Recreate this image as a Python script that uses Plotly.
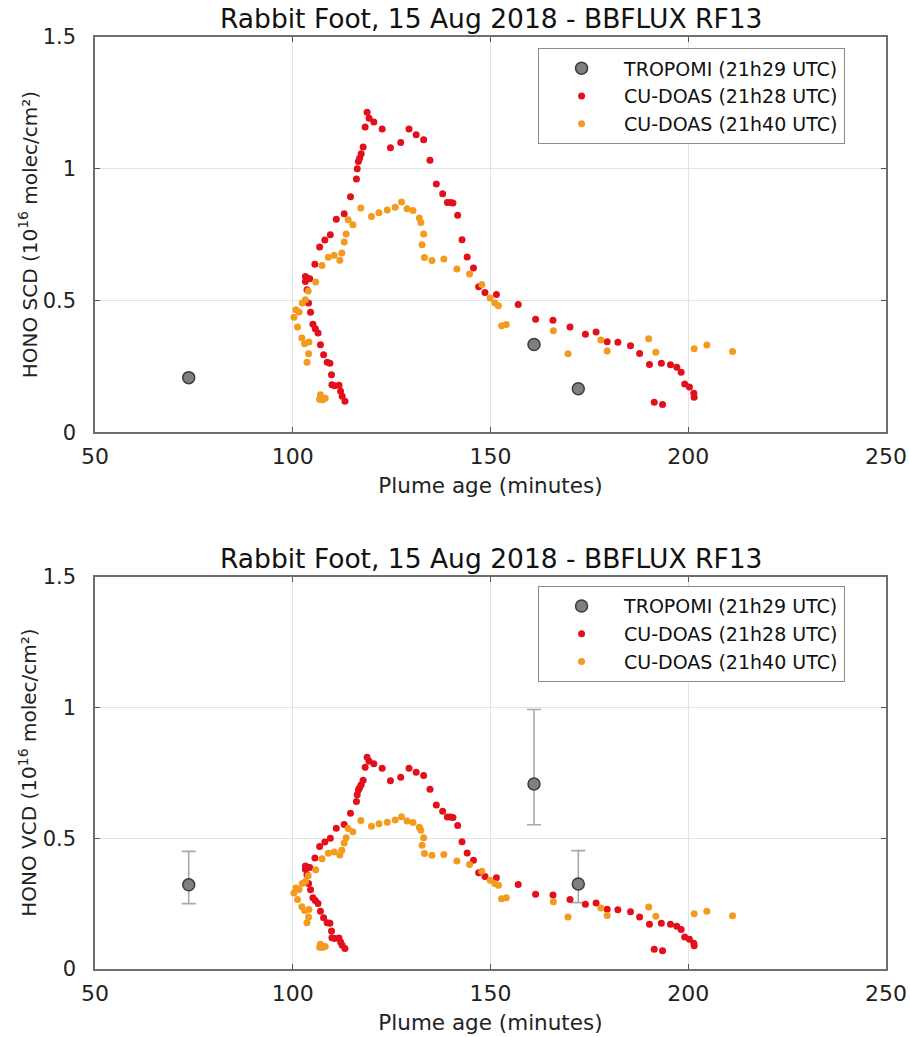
import plotly.graph_objects as go

title_text = "Rabbit Foot, 15 Aug 2018 - BBFLUX RF13"
legend_names = ["TROPOMI (21h29 UTC)", "CU-DOAS (21h28 UTC)", "CU-DOAS (21h40 UTC)"]
y_titles = ["HONO SCD (10<sup>16</sup> molec/cm²)", "HONO VCD (10<sup>16</sup> molec/cm²)"]
x_title = "Plume age (minutes)"

# TROPOMI
trop_x = [73.7, 161.0, 172.2]
trop_scd = [0.207, 0.333, 0.165]
trop_vcd = [0.322, 0.708, 0.325]
trop_vcd_hi = [0.450, 0.993, 0.453]
trop_vcd_lo = [0.250, 0.552, 0.254]

# CU-DOAS 21h28
red_x = [113.2, 112.5, 112.1, 111.7, 110.6, 109.9, 109.8, 109.4, 108.7, 107.8,
         107.0, 106.4, 105.7, 105.1, 104.5, 104.0, 103.6, 103.2, 103.2, 104.3,
         103.6, 105.6, 106.8, 108.1, 109.5, 111.0, 113.0, 114.6, 116.1, 116.3,
         116.6, 116.9, 117.3, 117.8, 118.3, 118.8, 119.3, 120.5, 122.6, 124.7,
         127.3, 129.4, 131.2, 133.1, 134.7, 136.3, 137.9, 139.1, 139.9, 140.5,
         141.7, 142.8, 144.1, 145.7, 147.0, 148.6, 151.5, 157.0, 161.4, 165.8,
         170.1, 174.0, 176.7, 179.5, 182.2, 185.4, 187.7, 190.2, 193.2, 195.5,
         197.1, 198.2, 199.1, 200.3, 201.4, 201.5, 191.4, 193.5]
red_scd = [0.117, 0.136, 0.155, 0.178, 0.176, 0.180, 0.218, 0.262, 0.265, 0.294,
           0.332, 0.376, 0.393, 0.410, 0.455, 0.490, 0.541, 0.572, 0.591, 0.582,
           0.585, 0.637, 0.703, 0.729, 0.749, 0.808, 0.829, 0.894, 0.961, 1.000,
           1.027, 1.040, 1.057, 1.082, 1.158, 1.214, 1.192, 1.177, 1.151, 1.080,
           1.100, 1.151, 1.129, 1.110, 1.032, 0.942, 0.905, 0.872, 0.872, 0.870,
           0.823, 0.730, 0.665, 0.623, 0.552, 0.530, 0.523, 0.485, 0.429, 0.425,
           0.399, 0.372, 0.380, 0.343, 0.341, 0.328, 0.299, 0.257, 0.262, 0.256,
           0.246, 0.227, 0.183, 0.171, 0.148, 0.133, 0.114, 0.105]
red_vcd = [0.078, 0.091, 0.103, 0.119, 0.117, 0.120, 0.145, 0.175, 0.177, 0.196,
           0.221, 0.251, 0.262, 0.273, 0.303, 0.327, 0.361, 0.382, 0.394, 0.388,
           0.390, 0.425, 0.469, 0.486, 0.500, 0.539, 0.553, 0.596, 0.641, 0.667,
           0.685, 0.694, 0.705, 0.722, 0.772, 0.810, 0.795, 0.785, 0.768, 0.720,
           0.734, 0.768, 0.753, 0.740, 0.688, 0.628, 0.604, 0.582, 0.582, 0.580,
           0.549, 0.487, 0.444, 0.416, 0.368, 0.354, 0.349, 0.323, 0.286, 0.283,
           0.266, 0.248, 0.253, 0.229, 0.227, 0.219, 0.199, 0.171, 0.175, 0.171,
           0.164, 0.151, 0.122, 0.114, 0.099, 0.089, 0.076, 0.070]

# CU-DOAS 21h40
org_x = [100.3, 100.8, 101.6, 101.2, 102.3, 102.4, 103.0, 103.2, 103.6, 103.9,
         104.0, 104.1, 105.8, 106.8, 107.0, 107.5, 108.2, 107.4, 109.0, 110.5,
         111.9, 112.4, 113.0, 113.5, 114.0, 115.2, 117.2, 119.9, 121.8, 123.9,
         125.9, 127.5, 128.9, 130.4, 132.0, 132.4, 133.1, 132.7, 133.3, 135.2,
         138.2, 141.5, 144.7, 147.8, 149.9, 151.1, 152.0, 152.8, 154.0, 165.9,
         169.6, 177.9, 179.5, 190.0, 191.8, 201.5, 204.7, 211.2]
org_scd = [0.436, 0.465, 0.456, 0.399, 0.357, 0.490, 0.336, 0.503, 0.265, 0.536,
           0.298, 0.342, 0.570, 0.125, 0.142, 0.123, 0.129, 0.633, 0.664, 0.672,
           0.653, 0.680, 0.722, 0.752, 0.806, 0.787, 0.851, 0.819, 0.833, 0.843,
           0.854, 0.874, 0.848, 0.841, 0.813, 0.796, 0.752, 0.711, 0.663, 0.652,
           0.657, 0.619, 0.600, 0.561, 0.509, 0.490, 0.480, 0.404, 0.409, 0.385,
           0.298, 0.350, 0.308, 0.355, 0.303, 0.317, 0.331, 0.306]
org_vcd = [0.291, 0.310, 0.304, 0.266, 0.238, 0.327, 0.224, 0.335, 0.177, 0.357,
           0.199, 0.228, 0.380, 0.083, 0.095, 0.082, 0.086, 0.422, 0.443, 0.448,
           0.436, 0.454, 0.482, 0.502, 0.538, 0.525, 0.568, 0.546, 0.556, 0.562,
           0.570, 0.583, 0.566, 0.561, 0.542, 0.531, 0.502, 0.474, 0.442, 0.435,
           0.438, 0.413, 0.400, 0.374, 0.340, 0.327, 0.320, 0.269, 0.273, 0.257,
           0.199, 0.233, 0.205, 0.237, 0.202, 0.211, 0.221, 0.204]

x_ticks = [50, 100, 150, 200, 250]
y_ticks = [0, 0.5, 1, 1.5]

RED = "#e3101c"
ORANGE = "#f29b1e"
GRAY_FILL = "#7f7f7f"
GRAY_LINE = "#3c3c3c"
FONT = "DejaVu Sans"

TOP_DOM = [0.576, 1.0]
BOT_DOM = [0.0, 0.4206]

fig = go.Figure()

# top panel
fig.add_trace(go.Scatter(x=trop_x, y=trop_scd, mode="markers", name=legend_names[0],
                         marker=dict(size=12, color=GRAY_FILL, line=dict(color=GRAY_LINE, width=1.5)),
                         xaxis="x", yaxis="y", legend="legend"))
fig.add_trace(go.Scatter(x=red_x, y=red_scd, mode="markers", name=legend_names[1],
                         marker=dict(size=7, color=RED), xaxis="x", yaxis="y", legend="legend"))
fig.add_trace(go.Scatter(x=org_x, y=org_scd, mode="markers", name=legend_names[2],
                         marker=dict(size=7, color=ORANGE), xaxis="x", yaxis="y", legend="legend"))

# bottom panel
err_plus = [h - v for h, v in zip(trop_vcd_hi, trop_vcd)]
err_minus = [v - l for l, v in zip(trop_vcd_lo, trop_vcd)]
fig.add_trace(go.Scatter(x=trop_x, y=trop_vcd, mode="markers", name=legend_names[0],
                         marker=dict(size=12, color=GRAY_FILL, line=dict(color=GRAY_LINE, width=1.5)),
                         error_y=dict(type="data", symmetric=False, array=err_plus, arrayminus=err_minus,
                                      color="#a9a9a9", thickness=1.6, width=7),
                         xaxis="x2", yaxis="y2", legend="legend2"))
fig.add_trace(go.Scatter(x=red_x, y=red_vcd, mode="markers", name=legend_names[1],
                         marker=dict(size=7, color=RED), xaxis="x2", yaxis="y2", legend="legend2"))
fig.add_trace(go.Scatter(x=org_x, y=org_vcd, mode="markers", name=legend_names[2],
                         marker=dict(size=7, color=ORANGE), xaxis="x2", yaxis="y2", legend="legend2"))

def xaxis_cfg(anchor):
    return dict(range=[50, 250], tickvals=x_ticks, ticks="inside", ticklen=5, tickcolor="#555",
                showline=True, linecolor="#6e6e6e", linewidth=1.5, mirror="ticks",
                showgrid=True, gridcolor="#e3e3e3", gridwidth=1, zeroline=False,
                tickfont=dict(family=FONT, size=22, color="#222"), ticklabelstandoff=4,
                title=dict(text=x_title, font=dict(family=FONT, size=21.5, color="#222"), standoff=10),
                anchor=anchor, automargin=False)

def yaxis_cfg(anchor, domain):
    return dict(range=[0, 1.5], tickvals=y_ticks, ticktext=["0", "0.5", "1", "1.5"],
                ticks="inside", ticklen=5, tickcolor="#555",
                showline=True, linecolor="#6e6e6e", linewidth=1.5, mirror="ticks",
                showgrid=True, gridcolor="#e3e3e3", gridwidth=1, zeroline=False,
                tickfont=dict(family=FONT, size=21, color="#222"), ticklabelstandoff=13,
                anchor=anchor, domain=domain, automargin=False)

legend_common = dict(xanchor="right", yanchor="top", bgcolor="white", bordercolor="#8a8a8a",
                     borderwidth=1.2, font=dict(family=FONT, size=19, color="#111"),
                     tracegroupgap=0, itemsizing="trace", itemwidth=75)

title_font = dict(family=FONT, size=26.5, color="#111")
ytitle_font = dict(family=FONT, size=20, color="#222")

fig.update_layout(
    width=910, height=1037,
    margin=dict(l=95, r=24, t=37, b=68, autoexpand=False),
    paper_bgcolor="white", plot_bgcolor="white",
    xaxis=xaxis_cfg("y"),
    yaxis=yaxis_cfg("x", TOP_DOM),
    xaxis2=xaxis_cfg("y2"),
    yaxis2=yaxis_cfg("x2", BOT_DOM),
    legend=dict(x=0.948, y=0.988, **legend_common),
    legend2=dict(x=0.948, y=0.411, **legend_common),
    annotations=[
        dict(text=title_text, x=0.5, y=TOP_DOM[1], xref="paper", yref="paper", xanchor="center", yanchor="bottom",
             yshift=1, showarrow=False, font=title_font),
        dict(text=title_text, x=0.5, y=BOT_DOM[1], xref="paper", yref="paper", xanchor="center", yanchor="bottom",
             yshift=1, showarrow=False, font=title_font),
        dict(text=y_titles[0], x=-0.085, y=sum(TOP_DOM) / 2, xref="paper", yref="paper",
             xanchor="center", yanchor="middle", textangle=-90, showarrow=False, font=ytitle_font),
        dict(text=y_titles[1], x=-0.085, y=sum(BOT_DOM) / 2, xref="paper", yref="paper",
             xanchor="center", yanchor="middle", textangle=-90, showarrow=False, font=ytitle_font),
    ],
    showlegend=True,
)

fig.write_html("out.html", config={"displayModeBar": False},
               post_script="document.body.style.margin='0';document.body.style.overflow='hidden';")
